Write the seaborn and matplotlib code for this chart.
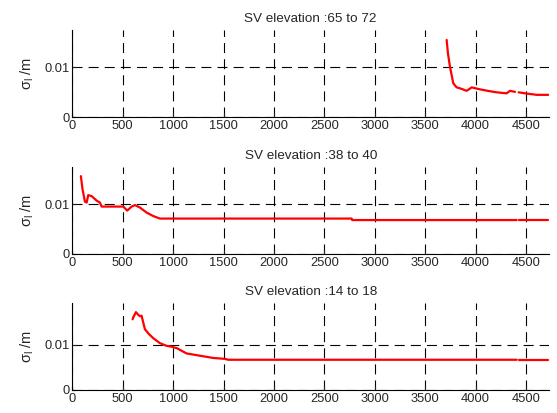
"""Sigma_l vs time for three SV elevation bands."""

import numpy as np
import pandas as pd
import matplotlib
matplotlib.use("Agg")
import matplotlib.pyplot as plt
import seaborn as sns

TITLES = ["SV elevation :65 to 72", "SV elevation :38 to 40", "SV elevation :14 to 18"]

# panel 1 (65 to 72)
X1 = [3712, 3725, 3745, 3778, 3811, 3860, 3910, 3940, 3960, 4000, 4043, 4120, 4208, 4307, 4340, 4390,
      np.nan, 4426, 4489, 4605, 4720]
Y1 = [0.0155, 0.0128, 0.0101, 0.0068, 0.0060, 0.0057, 0.0053, 0.0057, 0.0060, 0.0058, 0.0056, 0.0053,
      0.0050, 0.0048, 0.0053, 0.0051, np.nan, 0.0050, 0.0048, 0.0045, 0.0045]

# panel 2 (38 to 40)
X2 = [84, 100, 124, 141, 157, 190, 240, 273, 290, 438, 504, 544, 587, 620, 670, 736, 802, 868, 2770,
      2775, 4407, np.nan, 4432, 4720]
Y2 = [0.0156, 0.0130, 0.0105, 0.0103, 0.0118, 0.0116, 0.0107, 0.0103, 0.0095, 0.0095, 0.0095, 0.0087,
      0.0095, 0.0098, 0.0093, 0.0083, 0.0076, 0.0071, 0.0071, 0.0068, 0.0068, np.nan, 0.0068, 0.0068]

# panel 3 (14 to 18)
X3 = [597, 603, 630, 653, 670, 686, 719, 760, 802, 868, 934, 984, 1034, 1133, 1265, 1397, 1513, 1546,
      4407, np.nan, 4432, 4720]
Y3 = [0.0157, 0.0161, 0.0173, 0.0167, 0.0164, 0.0165, 0.0135, 0.0124, 0.0115, 0.0104, 0.0098, 0.0096,
      0.0093, 0.0081, 0.0076, 0.0071, 0.0069, 0.0067, 0.0067, np.nan, 0.0067, 0.0067]

YTOPS = [0.01746, 0.01746, 0.0193]
XTICKS = list(range(0, 5000, 500))


def to_frame(xs, ys):
    df = pd.DataFrame({"t": xs, "sigma": ys})
    df["seg"] = df["t"].isna().cumsum()
    return df.dropna()


sns.set_theme(style="ticks")
plt.rcParams["font.family"] = ["Liberation Sans", "DejaVu Sans"]
plt.rcParams["mathtext.fontset"] = "custom"
plt.rcParams["mathtext.rm"] = "Liberation Sans"
plt.rcParams["mathtext.it"] = "Liberation Sans"

fig = plt.figure(figsize=(5.57, 4.13), dpi=100)
boxes = [(0.716, 0.927), (0.385, 0.596), (0.056, 0.266)]
data = [(X1, Y1), (X2, Y2), (X3, Y3)]

for (b0, b1), (xs, ys), title, ytop in zip(boxes, data, TITLES, YTOPS):
    ax = fig.add_axes([0.130, b0, 0.8556, b1 - b0])
    df = to_frame(xs, ys)
    sns.lineplot(data=df, x="t", y="sigma", units="seg", estimator=None,
                 color="#ff0000", linewidth=1.6, ax=ax, zorder=3)
    ax.set_xlim(0, 4727)
    ax.set_ylim(0, ytop)
    ax.set_xticks(XTICKS)
    ax.set_yticks([0, 0.01])
    ax.set_yticklabels(["0", "0.01"])
    ax.grid(True, color="black", linestyle=(0, (9, 5.5)), linewidth=0.8)
    ax.tick_params(direction="in", length=3, labelsize=9.3, width=0.8, pad=2)
    sns.despine(ax=ax)
    for s in ("left", "bottom"):
        ax.spines[s].set_linewidth(0.8)
        ax.spines[s].set_color("black")
    ax.set_xlabel("")
    ax.set_ylabel(r"$\mathregular{\sigma_{l}}$ /m", fontsize=10.5, labelpad=6)
    ax.set_title(title, fontsize=9.7, pad=6)

fig.savefig("out.png", dpi=100)
